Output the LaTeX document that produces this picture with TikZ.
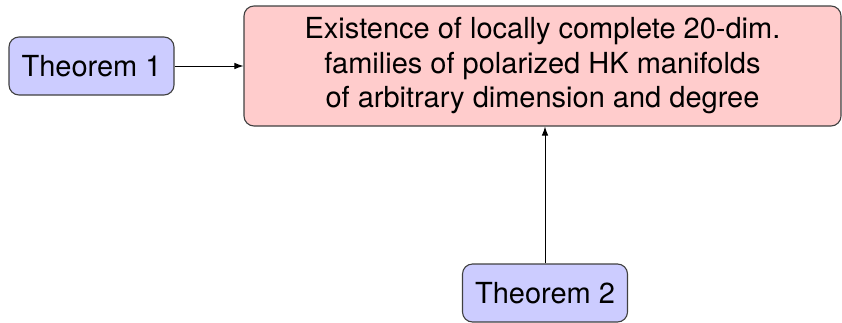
\documentclass[tikz,border=0pt]{standalone}
\usepackage{fontspec}
\setmainfont{TeX Gyre Heros}
\usetikzlibrary{arrows.meta}
\begin{document}
\begin{tikzpicture}[x=1pt,y=-1pt,
  box/.style={draw=black!75, line width=1.1pt, rounded corners=10pt, align=center, inner sep=0pt, font=\fontsize{29}{34.5}\selectfont},
  thm/.style={box, fill=blue!20, minimum width=165pt, minimum height=58pt},
  mainbox/.style={box, fill=red!20, minimum width=597pt, minimum height=120pt},
  arr/.style={-{Latex[length=9pt,width=6.5pt]}, line width=0.9pt, black}]
\useasboundingbox (0,0) rectangle (842,322);
\node[thm] (t1) at (91.5,66) {Theorem 1};
\node[mainbox] (m) at (542.5,66) {Existence of locally complete 20-dim.\\families of polarized HK manifolds\\of arbitrary dimension and degree};
\node[thm] (t2) at (545,293) {Theorem 2};
\draw[arr] (t1) -- (m);
\draw[arr] (t2.north) -- (t2.north |- m.south);
\end{tikzpicture}
\end{document}
